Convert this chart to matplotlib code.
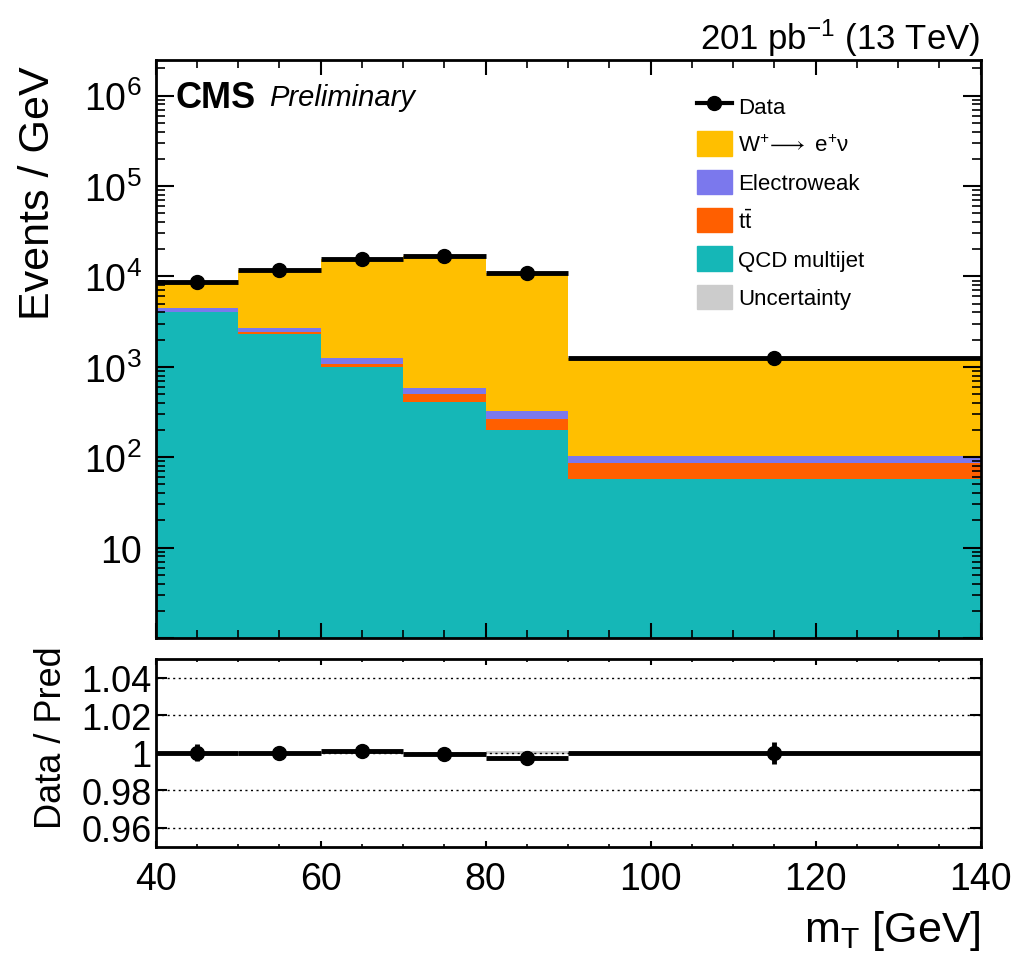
import numpy as np
import matplotlib
matplotlib.use('Agg')
import matplotlib.pyplot as plt
from matplotlib.ticker import LogLocator, FuncFormatter, MultipleLocator, NullFormatter
from matplotlib.lines import Line2D
from matplotlib.patches import Patch

plt.rcParams['font.family'] = ['Liberation Sans', 'DejaVu Sans']
plt.rcParams['mathtext.fontset'] = 'custom'
plt.rcParams['mathtext.rm'] = 'Liberation Sans'
plt.rcParams['mathtext.it'] = 'Liberation Sans:italic'
plt.rcParams['mathtext.bf'] = 'Liberation Sans:bold'
plt.rcParams['mathtext.fallback'] = 'stixsans'

# bins in mT [GeV]
edges = np.array([40, 50, 60, 70, 80, 90, 140])

# stacked backgrounds, events / GeV
qcd = np.array([4050, 2300, 1000, 413, 198, 58])
ttbar = np.array([25, 102, 71, 81, 69, 28])
ewk = np.array([410, 282, 179, 96, 55, 16])
wenu = np.array([4250, 8950, 14200, 16400, 10480, 1150])

data = np.array([8730, 11660, 15450, 16980, 10800, 1250])

# ratio panel
ratio = np.array([1.0, 1.0, 1.0009, 0.9996, 0.9973, 1.0])
ratio_err = np.array([0.0045, 0.0028, 0.0028, 0.0028, 0.0035, 0.0058])
unc = np.array([0.0003, 0.0003, 0.0006, 0.0006, 0.0008, 0.0004])

c_w = '#ffbf00'
c_ewk = '#7b78ed'
c_tt = '#ff5f00'
c_qcd = '#15b7b7'
c_unc = '#cccccc'

centers = 0.5 * (edges[1:] + edges[:-1])
halfw = 0.5 * np.diff(edges)

fig = plt.figure(figsize=(10.12, 9.54), dpi=100)
ax = fig.add_axes([0.1539, 0.3302, 0.8152, 0.6062])
ax2 = fig.add_axes([0.1539, 0.1114, 0.8152, 0.1968])

# %% main panel
ax.set_yscale('log')
base = np.full(len(qcd), 0.1)
layers = [(qcd, c_qcd), (ttbar, c_tt), (ewk, c_ewk), (wenu, c_w)]
for vals, col in layers:
    top = base + vals
    ax.stairs(top, edges, baseline=base, fill=True, color=col, lw=0)
    base = top

ax.errorbar(centers, data, xerr=halfw, fmt='o', color='black', ms=10,
            lw=3.5, capsize=0, zorder=5)

ax.set_xlim(40, 140)
ax.set_ylim(1, 2.5e6)

def ylab(v, pos):
    if abs(v - 10) < 1e-6:
        return '10'
    if v >= 99:
        return r'$10^{%d}$' % int(round(np.log10(v)))
    return ''

ax.yaxis.set_major_locator(LogLocator(base=10, numticks=20))
ax.yaxis.set_major_formatter(FuncFormatter(ylab))
ax.yaxis.set_minor_locator(LogLocator(base=10, subs=np.arange(2, 10), numticks=20))
ax.yaxis.set_minor_formatter(NullFormatter())
ax.xaxis.set_major_locator(MultipleLocator(20))
ax.xaxis.set_minor_locator(MultipleLocator(5))
ax.tick_params(axis='both', which='both', direction='in', top=True, right=True,
               labelbottom=False)
ax.tick_params(axis='y', which='major', length=13, width=1.5, labelsize=27, pad=10)
ax.tick_params(axis='y', which='minor', length=6.5, width=1.2)
ax.tick_params(axis='x', which='major', length=11, width=1.5)
ax.tick_params(axis='x', which='minor', length=6, width=1.2)
for s in ax.spines.values():
    s.set_linewidth(2)

ax.set_ylabel('Events / GeV', fontsize=31)
ax.yaxis.set_label_coords(-0.118, 0.77)

ax.text(0.024, 0.935, 'CMS', transform=ax.transAxes, fontsize=26,
        fontweight='bold', va='center', ha='left')
ax.text(0.138, 0.935, 'Preliminary', transform=ax.transAxes, fontsize=21,
        style='italic', va='center', ha='left')
fig.text(980 / 1012, 1 - 50 / 954, r'201 pb$^{-1}$ (13 TeV)', fontsize=25,
         ha='right', va='baseline')

handles = [Line2D([], [], color='black', lw=3, marker='o', ms=10),
           Patch(color=c_w), Patch(color=c_ewk), Patch(color=c_tt),
           Patch(color=c_qcd), Patch(color=c_unc)]
labels = ['Data', r'W$^{+}\!\longrightarrow$ e$^{+}$ν', 'Electroweak',
          r'$\mathrm{t\bar{t}}$', 'QCD multijet', 'Uncertainty']
fig.legend(handles, labels, loc='upper left',
           bbox_to_anchor=(686 / 1012, 1 - 83 / 954), frameon=False,
           fontsize=16, borderpad=0, labelspacing=0.62, handlelength=1.55,
           handleheight=1.3, handletextpad=0.3)

# %% ratio panel
ax2.stairs(1 + unc, edges, baseline=1 - unc, fill=True, color=c_unc, lw=0)
ax2.errorbar(centers, ratio, yerr=ratio_err, xerr=halfw, fmt='o', color='black',
             ms=10, lw=3.5, capsize=0, zorder=5)
ax2.set_xlim(40, 140)
ax2.set_ylim(0.95, 1.05)
ax2.set_yticks([0.96, 0.98, 1.0, 1.02, 1.04])
ax2.yaxis.set_major_formatter(FuncFormatter(lambda v, p: '%g' % round(v, 2)))
ax2.xaxis.set_major_locator(MultipleLocator(20))
ax2.xaxis.set_minor_locator(MultipleLocator(5))
ax2.grid(axis='y', ls=(0, (1.5, 2.5)), color='black', lw=1)
ax2.tick_params(axis='both', which='both', direction='in', top=True, right=True)
ax2.tick_params(axis='y', which='major', length=8, width=1.5, labelsize=26, pad=3)
ax2.tick_params(axis='x', which='major', length=4, width=1.5, labelsize=27, pad=10)
ax2.tick_params(axis='x', which='minor', length=2.5, width=1.2)
for s in ax2.spines.values():
    s.set_linewidth(2)

ax2.set_ylabel('Data / Pred', fontsize=26)
ax2.yaxis.set_label_coords(-0.105, 0.585)
ax2.set_xlabel(r'm$_{\mathrm{T}}$ [GeV]', fontsize=31, loc='right', labelpad=8)

fig.savefig('out.png', dpi=100)
